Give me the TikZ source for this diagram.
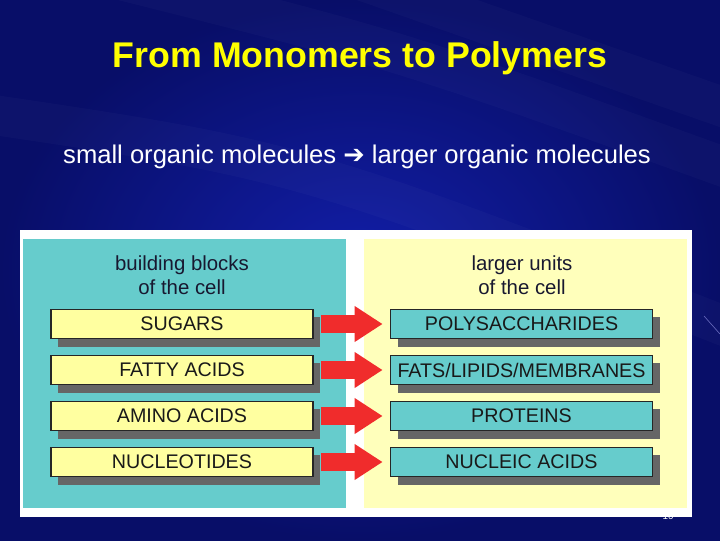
\documentclass[tikz,border=0pt]{standalone}
\usepackage{fontspec}
\setmainfont{Liberation Sans}
\newfontfamily\symfont{DejaVu Sans}
\usetikzlibrary{arrows.meta,shadows}
\definecolor{bgdark}{RGB}{8,14,104}
\definecolor{bglight}{RGB}{18,30,168}
\definecolor{titleyellow}{RGB}{255,255,0}
\definecolor{panelteal}{RGB}{102,204,204}
\definecolor{panelyellow}{RGB}{255,255,187}
\definecolor{boxyellow}{RGB}{255,255,160}
\definecolor{boxteal}{RGB}{102,204,204}
\definecolor{shadowgray}{RGB}{102,102,102}
\definecolor{arrowred}{RGB}{240,44,44}
\definecolor{headink}{RGB}{24,24,48}
\tikzset{
  unitbox/.style={draw=black!85,line width=0.9pt,minimum width=6.55cm,minimum height=0.74cm,
    inner sep=0pt,text=black!90,font=\fontsize{14}{16}\selectfont,
    drop shadow={shadow xshift=0.18cm,shadow yshift=-0.2cm,fill=shadowgray,opacity=1}},
  monobox/.style={unitbox,fill=boxyellow},
  polybox/.style={unitbox,fill=boxteal},
  heading/.style={align=center,text=headink,font=\fontsize{14.5}{17}\selectfont},
  bigarrow/.style={arrowred,line width=0.43cm,shorten <=0.18cm,shorten >=0.18cm,
    -{Triangle[length=0.7cm,width=0.85cm]}},
  streak/.style={white,line width=1cm,opacity=0.025}
}
\begin{document}
\begin{tikzpicture}[x=0.025cm,y=-0.025cm]
  \useasboundingbox (0,0) rectangle (720,540);
  \shade[inner color=bglight,outer color=bgdark] (0,0) rectangle (720,540);
  % faint streaks of the slide background
  \begin{scope}
    \clip (0,0) rectangle (720,540);
    \draw[streak] (120,-20) .. controls (400,50) .. (760,180);
    \draw[streak] (360,-20) .. controls (560,50) .. (760,120);
    \draw[streak] (-40,110) .. controls (300,160) .. (760,340);
  \end{scope}
  \draw[white!70!blue,opacity=0.6] (704,316) -- (720,334);
  \node[text=white,font=\fontsize{7}{8}\selectfont] (pagenum) at (668,516) {10};
  \node[text=titleyellow,font=\bfseries\fontsize{25.4}{30}\selectfont] (title) at (360,58)
    {From Monomers to Polymers};
  \node[text=white,font=\fontsize{18.2}{22}\selectfont] (subtitle) at (357,157)
    {small organic molecules {\symfont ➔} larger organic molecules};
  % picture frame and the two panels
  \fill[white] (20,230) rectangle (692,517);
  \fill[panelteal] (23,239) rectangle (346,508);
  \fill[panelyellow] (364,239) rectangle (687,508);
  \node[heading] (blocks) at (182,275) {building blocks\\of the cell};
  \node[heading] (units) at (522,275) {larger units\\of the cell};
  % monomers -> polymers
  \node[monobox] (sugars) at (182,324) {SUGARS};
  \node[monobox] (fatty) at (182,370) {FATTY ACIDS};
  \node[monobox] (amino) at (182,416) {AMINO ACIDS};
  \node[monobox] (nucleo) at (182,462) {NUCLEOTIDES};
  \node[polybox] (polysacch) at (521.5,324) {POLYSACCHARIDES};
  \node[polybox] (lipids) at (521.5,370) {FATS/LIPIDS/MEMBRANES};
  \node[polybox] (proteins) at (521.5,416) {PROTEINS};
  \node[polybox] (nucleic) at (521.5,462) {NUCLEIC ACIDS};
  \draw[bigarrow] (sugars) -- (polysacch);
  \draw[bigarrow] (fatty) -- (lipids);
  \draw[bigarrow] (amino) -- (proteins);
  \draw[bigarrow] (nucleo) -- (nucleic);
\end{tikzpicture}
\end{document}
